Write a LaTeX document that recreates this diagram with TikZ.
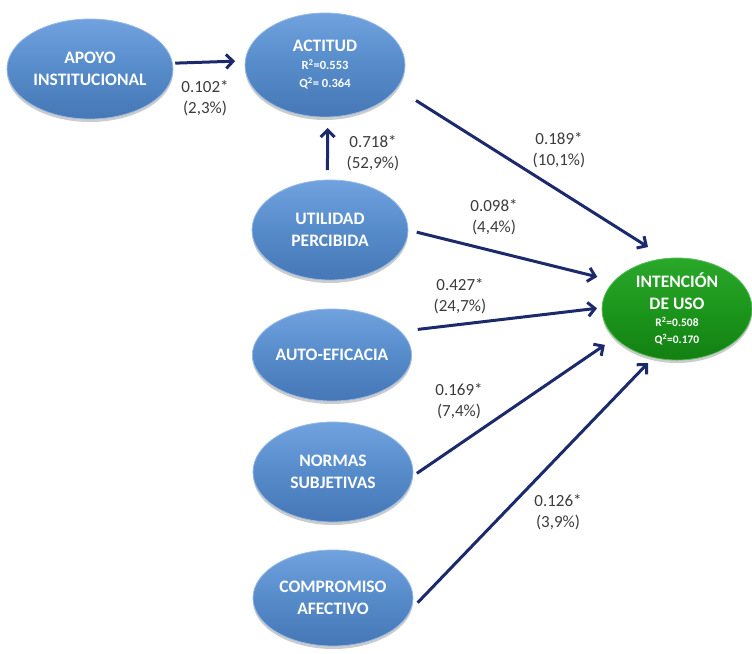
\documentclass[tikz,border=0pt]{standalone}
\usepackage{fontspec}
\setmainfont{Carlito}
\usetikzlibrary{shapes.geometric,arrows.meta,shadows}
\definecolor{bluemid}{RGB}{86,139,202}
\definecolor{bluetop}{RGB}{112,162,222}
\definecolor{bluebot}{RGB}{70,119,182}
\definecolor{blueedge}{RGB}{150,185,228}
\definecolor{greenmid}{RGB}{28,150,28}
\definecolor{greentop}{RGB}{42,168,42}
\definecolor{greenbot}{RGB}{18,128,18}
\definecolor{greenedge}{RGB}{90,190,90}
\definecolor{arrowblue}{RGB}{28,42,108}
\definecolor{labgray}{RGB}{60,60,60}
\begin{document}
\begin{tikzpicture}[x=1pt,y=-1pt,
  ell/.style={ellipse, inner sep=0pt, outer sep=0pt, draw=blueedge, line width=0.8pt,
    top color=bluetop, bottom color=bluebot, middle color=bluemid,
    drop shadow={opacity=0.4, shadow xshift=0pt, shadow yshift=-3pt},
    text=white, align=center, font=\fontsize{17.5}{22}\selectfont\bfseries},
  greenell/.style={ell, draw=greenedge, top color=greentop, bottom color=greenbot, middle color=greenmid},
  lab/.style={align=center, text=labgray, inner sep=0pt, font=\fontsize{17}{21}\selectfont},
  conn/.style={draw=arrowblue, line width=3pt, -{Straight Barb[length=7pt,width=14pt]}}
]
\useasboundingbox (0,0) rectangle (752,653);

\node[ell, minimum width=166pt, minimum height=100pt] (apoyo) at (90,69) {APOYO\\INSTITUCIONAL};
\node[ell, minimum width=160pt, minimum height=104pt] (actitud) at (325,65)
  {ACTITUD\\[-4pt]{\fontsize{12.5}{15}\selectfont R\textsuperscript{2}=0.553}\\[-4pt]{\fontsize{12.5}{15}\selectfont Q\textsuperscript{2}= 0.364}};
\node[ell, minimum width=156pt, minimum height=100pt] (utilidad) at (330,230) {UTILIDAD\\PERCIBIDA};
\node[ell, minimum width=156pt, minimum height=92pt] (auto) at (332,355) {AUTO-EFICACIA};
\node[ell, minimum width=160pt, minimum height=100pt] (normas) at (333,472) {NORMAS\\SUBJETIVAS};
\node[ell, minimum width=160pt, minimum height=96pt] (comp) at (333,598) {COMPROMISO\\AFECTIVO};
\node[greenell, minimum width=150pt, minimum height=102pt] (int) at (677,309)
  {INTENCIÓN\\DE USO\\[-5pt]{\fontsize{11.5}{12}\selectfont R\textsuperscript{2}=0.508}\\[-5pt]{\fontsize{11.5}{12}\selectfont Q\textsuperscript{2}=0.170}};

\draw[conn, shorten <=2.8pt, shorten >=10.1pt] (apoyo.4.87) -- (actitud.177.85);
\draw[conn, shorten <=10pt, shorten >=11pt] (utilidad.93.44) -- (actitud.-87.8);
\draw[conn, shorten <=23pt, shorten >=21.6pt] (actitud.-18) -- (int.102);
\draw[conn, shorten <=9pt, shorten >=17.5pt] (utilidad.0) -- (int.156);
\draw[conn, shorten <=17.5pt, shorten >=5pt] (auto.19) -- (int.179);
\draw[conn, shorten <=5pt, shorten >=12.5pt] (normas.-3) -- (int.205);
\draw[conn, shorten <=10.5pt, shorten >=7.8pt] (comp.-9) -- (int.244);

\node[lab] (l1) at (205,98) {0.102*\\(2,3\%)};
\node[lab] (l2) at (373,153) {0.718*\\(52,9\%)};
\node[lab] (l3) at (559,150) {0.189*\\(10,1\%)};
\node[lab] (l4) at (494,217.5) {0.098*\\(4,4\%)};
\node[lab] (l5) at (460,296) {0.427*\\(24,7\%)};
\node[lab] (l6) at (459,401) {0.169*\\(7,4\%)};
\node[lab] (l7) at (558,512.5) {0.126*\\(3,9\%)};
\end{tikzpicture}
\end{document}
